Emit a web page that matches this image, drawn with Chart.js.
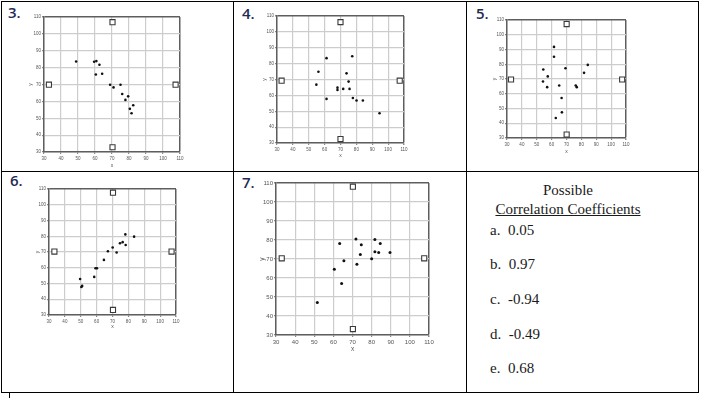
<!DOCTYPE html>
<html>
<head>
<meta charset="utf-8">
<script src="https://cdn.jsdelivr.net/npm/chart.js@4.4.1/dist/chart.umd.min.js"></script>
<style>
  body { margin: 0; width: 702px; height: 398px; position: relative; overflow: hidden; background: #fff; }
  .ln { position: absolute; background: #000; }
  .num { position: absolute; font: 600 15px "Open Sans", sans-serif; color: #1f2a55; }
  canvas { position: absolute; }
  .txt { position: absolute; font-family: "Liberation Serif", serif; font-size: 15px; line-height: 18px; color: #1a1a1a; white-space: nowrap; }
</style>
</head>
<body>
<!-- table lines -->
<div class="ln" style="left:1px;top:1px;width:698px;height:1px"></div>
<div class="ln" style="left:1px;top:171px;width:698px;height:1px"></div>
<div class="ln" style="left:1px;top:392px;width:698px;height:1px"></div>
<div class="ln" style="left:1px;top:1px;width:1px;height:392px"></div>
<div class="ln" style="left:233px;top:1px;width:1px;height:392px"></div>
<div class="ln" style="left:466px;top:1px;width:1px;height:392px"></div>
<div class="ln" style="left:698px;top:1px;width:1px;height:392px"></div>
<div class="ln" style="left:9px;top:393px;width:1px;height:5px"></div>

<div class="num" style="left:8px;top:2px">3.</div>
<div class="num" style="left:242px;top:3px">4.</div>
<div class="num" style="left:476px;top:3px">5.</div>
<div class="num" style="left:10px;top:170px">6.</div>
<div class="num" style="left:242px;top:172px">7.</div>

<div class="txt" style="left:468px;top:181px;width:200px;text-align:center">Possible</div>
<div class="txt" style="left:468px;top:200px;width:200px;text-align:center"><u>Correlation Coefficients</u></div>
<div class="txt" style="left:490px;top:221px">a.&nbsp; 0.05</div>
<div class="txt" style="left:490px;top:255px">b.&nbsp; 0.97</div>
<div class="txt" style="left:490px;top:290px">c.&nbsp; -0.94</div>
<div class="txt" style="left:490px;top:325px">d.&nbsp; -0.49</div>
<div class="txt" style="left:490px;top:359px">e.&nbsp; 0.68</div>

<script>
// shared axis ticks
const axisTicks = [30, 40, 50, 60, 70, 80, 90, 100, 110];

// 3.
const p3X = [48.9, 59.5, 60.8, 62.6, 60.5, 64.2, 68.9, 70.9, 75.0, 76.0, 77.9, 79.5, 80.5, 82.5, 81.5];
const p3Y = [83.7, 83.5, 83.9, 81.7, 76.0, 76.4, 69.9, 68.3, 69.9, 64.4, 60.9, 63.0, 55.6, 57.7, 53.0];
const p3MX = [70.3, 32.9, 107.4, 70.3];
const p3MY = [107.0, 69.9, 69.9, 32.8];

// 4.
const p4X = [61.2, 56.1, 54.8, 61.2, 68.1, 68.1, 71.7, 73.8, 75.1, 75.7, 77.4, 77.8, 80.1, 84.1, 94.6];
const p4Y = [83.5, 74.9, 66.8, 57.8, 64.9, 63.4, 64.1, 73.9, 68.7, 64.1, 84.7, 58.4, 56.8, 56.8, 48.8];
const p4MX = [70.0, 32.9, 107.3, 70.0];
const p4MY = [106.2, 69.3, 69.3, 32.5];

// 5.
const p5X = [61.6, 61.6, 54.4, 57.4, 54.2, 57.0, 65.1, 69.3, 76.2, 76.9, 81.8, 84.3, 66.7, 66.9, 62.8];
const p5Y = [91.8, 85.1, 76.5, 71.8, 68.3, 64.5, 65.6, 77.3, 65.6, 64.5, 74.2, 79.6, 57.1, 47.4, 43.6];
const p5MX = [70.1, 32.7, 107.4, 70.1];
const p5MY = [107.3, 69.7, 69.7, 32.3];

// 6.
const p6X = [49.6, 50.4, 50.9, 58.5, 59.3, 60.2, 64.6, 67.1, 70.1, 72.6, 74.7, 76.4, 78.1, 78.3, 83.6];
const p6Y = [52.9, 47.8, 48.5, 54.2, 59.7, 59.7, 65.0, 70.5, 72.9, 69.7, 75.6, 76.3, 81.2, 74.5, 79.8];
const p6MX = [70.3, 33.4, 107.2, 70.3];
const p6MY = [107.7, 70.3, 70.3, 33.2];

// 7.
const p7X = [51.6, 60.5, 64.3, 63.3, 65.5, 71.8, 72.3, 74.1, 74.6, 80.0, 81.7, 81.7, 83.7, 84.5, 89.6];
const p7Y = [47.1, 64.6, 57.1, 78.2, 69.1, 80.5, 67.2, 72.4, 77.5, 70.2, 80.3, 73.8, 73.5, 78.2, 73.5];
const p7MX = [70.2, 33.0, 107.5, 70.2];
const p7MY = [108.1, 70.4, 70.4, 33.1];

// layout of each plot: plot box [left, top, right, bottom], axis sizes, font size
const panels = [
  { x: p3X, y: p3Y, mx: p3MX, my: p3MY, box: [44, 17, 180, 152], W: 16, H: 17, fs: 4.5, dot: 1.3 },
  { x: p4X, y: p4Y, mx: p4MX, my: p4MY, box: [277, 16, 404, 143], W: 15, H: 16, fs: 4.5, dot: 1.3 },
  { x: p5X, y: p5Y, mx: p5MX, my: p5MY, box: [507, 20, 626, 138], W: 15, H: 17, fs: 4.5, dot: 1.3 },
  { x: p6X, y: p6Y, mx: p6MX, my: p6MY, box: [49, 189, 176, 315], W: 14, H: 15, fs: 4.5, dot: 1.3 },
  { x: p7X, y: p7Y, mx: p7MX, my: p7MY, box: [276, 183, 429, 335], W: 18, H: 18, fs: 6, dot: 1.5 }
];

function axis(p, horizontal) {
  return {
    type: 'linear',
    min: axisTicks[0],
    max: axisTicks[axisTicks.length - 1],
    afterBuildTicks: function(scale) {
      scale.ticks = axisTicks.map(v => ({ value: v }));
    },
    afterFit: function(scale) {
      if (horizontal) scale.height = p.H; else scale.width = p.W;
    },
    grid: {
      color: ctx => (ctx.tick && ctx.tick.value === 110) ? '#5e5e5e' : '#cdcdcd',
      lineWidth: ctx => (ctx.tick && ctx.tick.value === 110) ? 1.5 : 1.2,
      tickColor: '#888',
      tickLength: 2
    },
    border: { color: '#5e5e5e', width: 1.5 },
    ticks: {
      color: '#555',
      padding: horizontal ? 2 : 1,
      maxRotation: 0,
      autoSkip: false,
      font: { family: 'Liberation Sans', size: p.fs }
    },
    title: {
      display: true,
      text: horizontal ? 'x' : 'y',
      color: '#555',
      padding: 0,
      font: { family: 'Liberation Sans', size: p.fs + 0.5 }
    }
  };
}

panels.forEach(p => {
  const [l, t, r, b] = p.box;
  const PT = 5, PR = 8;
  const canvas = document.createElement('canvas');
  const w = p.W + (r - l) + PR;
  const h = PT + (b - t) + p.H;
  canvas.width = w;
  canvas.height = h;
  canvas.style.left = (l - p.W) + 'px';
  canvas.style.top = (t - PT) + 'px';
  canvas.style.width = w + 'px';
  canvas.style.height = h + 'px';
  document.body.appendChild(canvas);

  new Chart(canvas, {
    type: 'scatter',
    data: {
      datasets: [{
        data: p.x.map((v, i) => ({ x: v, y: p.y[i] })),
        backgroundColor: '#111',
        borderWidth: 0,
        pointRadius: p.dot
      }, {
        data: p.mx.map((v, i) => ({ x: v, y: p.my[i] })),
        pointStyle: 'rect',
        pointRadius: 3.6,
        backgroundColor: '#fff',
        borderColor: '#3a3a3a',
        borderWidth: 1.1
      }]
    },
    options: {
      responsive: false,
      devicePixelRatio: 1,
      animation: false,
      layout: { padding: { top: PT, right: PR, left: 0, bottom: 0 } },
      plugins: { legend: { display: false }, tooltip: { enabled: false } },
      scales: { x: axis(p, true), y: axis(p, false) }
    }
  });
});
</script>
</body>
</html>
